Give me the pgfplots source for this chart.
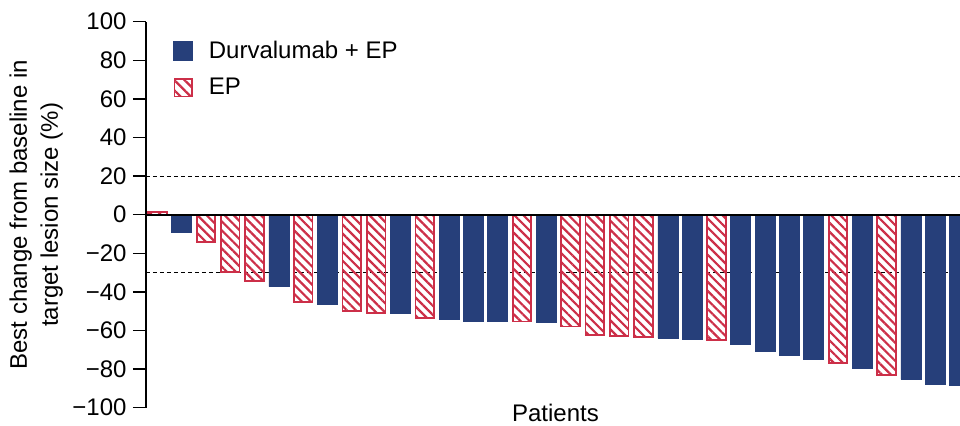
\documentclass[border=0pt]{standalone}
\usepackage{fontspec}
\setmainfont{Liberation Sans}
\usepackage{pgfplots}
\pgfplotsset{compat=1.18}
\usetikzlibrary{patterns.meta}
\definecolor{dblue}{HTML}{263F7A}
\definecolor{epred}{HTML}{CC2F48}
\begin{document}
\begin{tikzpicture}[font=\fontsize{12}{15.5}\selectfont]
\useasboundingbox (-73pt,-8.65pt) rectangle (407pt,203.85pt);
\begin{axis}[
  scale only axis,
  width=407pt, height=193pt,
  xmin=-0.47, xmax=33.02,
  ymin=-100, ymax=100,
  axis y line=left,
  axis x line=bottom,
  x axis line style={draw=none},
  y axis line style={-, line width=0.7pt},
  xtick=\empty,
  ytick={-100,-80,...,100},
  yticklabels={−100,−80,−60,−40,−20,0,20,40,60,80,100},
  tick align=outside,
  major tick length=6.5pt,
  ytick style={line width=0.7pt, black},
  yticklabel style={font=\fontsize{12}{13}\selectfont, xshift=0.3pt},
  ylabel={Best change from baseline in\\target lesion size (\%)},
  ylabel style={align=center, at={(axis description cs:-0.135,0.5)}, anchor=center, font=\fontsize{12}{15.5}\selectfont},
  xlabel={Patients},
  xlabel style={at={(axis description cs:0.503,0)}, anchor=center, yshift=-2.4pt, font=\fontsize{12}{13}\selectfont},
  legend style={draw=none, fill=none, at={(axis description cs:0.033,0.962)}, anchor=north west,
     inner sep=0pt, row sep=4.5pt, font=\fontsize{12}{13}\selectfont,
     /tikz/every odd column/.style={column sep=6pt}},
  legend cell align=left,
]
\addplot[dashed, dash pattern=on 2pt off 1.5pt, line width=0.6pt, black, forget plot] coordinates {(-0.47,20) (33.02,20)};
\addplot[dashed, dash pattern=on 2pt off 1.5pt, line width=0.6pt, black, forget plot] coordinates {(-0.47,-30) (33.02,-30)};
\addplot[ybar, bar width=10pt, bar shift=0pt, fill=dblue, draw=dblue, line width=0.3pt,
  legend image code/.code={\fill[dblue] (0pt,-4.7pt) rectangle (9.5pt,4.7pt);}]
coordinates {(1,-9.3) (5,-37.3) (7,-46.4) (10,-51.0) (12,-54.4) (13,-55.1) (14,-55.1) (16,-55.8)
 (21,-63.9) (22,-64.4) (24,-67.2) (25,-70.8) (26,-72.7) (27,-74.8) (29,-79.6) (31,-85.3) (32,-87.9) (33,-88.4)};
\addlegendentry{Durvalumab + EP}
\addplot[ybar, bar width=9.3pt, bar shift=0pt, draw=epred, line width=0.85pt,
  pattern={Lines[angle=-45, distance=3.2pt, line width=1.1pt]}, pattern color=epred,
  legend image code/.code={\draw[epred, line width=0.85pt, pattern={Lines[angle=-45, distance=3.6pt, line width=1.1pt]}, pattern color=epred] (0.4pt,-4.3pt) rectangle (9.1pt,4.3pt);}]
coordinates {(0,1.4) (2,-14.0) (3,-29.7) (4,-34.2) (6,-45.4) (8,-50.0) (9,-50.8) (11,-53.7)
 (15,-55.4) (17,-58.0) (18,-62.3) (19,-62.7) (20,-63.4) (23,-65.1) (28,-76.8) (30,-83.2)};
\addlegendentry{EP}
\addplot[line width=0.9pt, black, forget plot] coordinates {(-0.47,0) (33.02,0)};
\end{axis}
\end{tikzpicture}
\end{document}
